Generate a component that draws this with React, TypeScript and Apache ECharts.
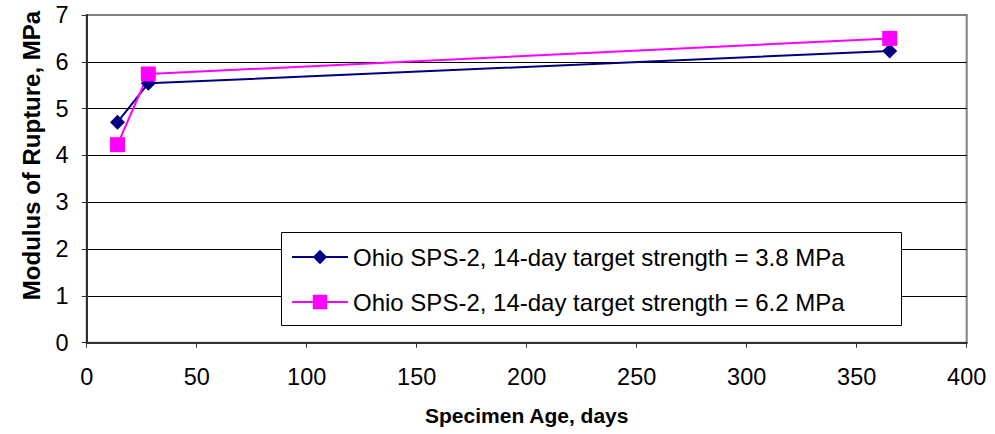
import React, { useEffect, useRef } from "react";
import * as echarts from "echarts";

const ageDays = [14, 28, 365];
const mor38 = [4.71, 5.54, 6.23];
const mor62 = [4.23, 5.74, 6.5];
const seriesNames = [
  "Ohio SPS-2, 14-day target strength = 3.8 MPa",
  "Ohio SPS-2, 14-day target strength = 6.2 MPa",
];
const xTitle = "Specimen Age, days";
const yTitle = "Modulus of Rupture, MPa";

const FONT = "'Liberation Sans', Arial, sans-serif";

export default function App() {
  const ref = useRef<HTMLDivElement>(null);
  useEffect(() => {
    if (!ref.current) return;
    const chart = echarts.init(ref.current, undefined, { renderer: "svg" });
    const pair = (ys: number[]) => ageDays.map((x, i) => [x, ys[i]]);
    chart.setOption({
      animation: false,
      backgroundColor: "#ffffff",
      textStyle: { fontFamily: FONT },
      grid: {
        left: 86.7,
        right: 28.3,
        top: 15,
        bottom: 91.3,
        show: true,
        borderColor: "#808080",
        borderWidth: 2,
        backgroundColor: "transparent",
      },
      xAxis: {
        type: "value",
        min: 0,
        max: 400,
        interval: 50,
        axisLine: { show: true, lineStyle: { color: "#303030", width: 2 } },
        axisTick: { show: true, inside: false, length: 5, lineStyle: { color: "#303030", width: 1 } },
        axisLabel: { color: "#000", fontSize: 23.5, fontFamily: FONT, margin: 22 },
        splitLine: { show: false },
      },
      yAxis: {
        type: "value",
        min: 0,
        max: 7,
        interval: 1,
        axisLine: { show: true, lineStyle: { color: "#303030", width: 2 } },
        axisTick: { show: true, inside: false, length: 5, lineStyle: { color: "#303030", width: 1 } },
        axisLabel: { color: "#000", fontSize: 23.5, fontFamily: FONT, margin: 18 },
        splitLine: {
          show: true,
          lineStyle: {
            color: ["#000", "#000", "#000", "#000", "#000", "#000", "#000", "#808080"],
            width: 1,
          },
        },
      },
      legend: {
        orient: "vertical",
        left: 291,
        top: 245,
        padding: 0,
        itemWidth: 56,
        itemHeight: 18,
        itemGap: 21,
        z: 5,
        textStyle: { fontSize: 24, fontFamily: FONT, color: "#000", lineHeight: 24 },
        data: seriesNames,
      },
      graphic: [
        {
          type: "rect",
          z: 3,
          shape: { x: 281.5, y: 232.5, width: 620, height: 93 },
          style: { fill: "#fff", stroke: "#000", lineWidth: 1 },
        },
        {
          type: "text",
          z: 3,
          x: 31,
          y: 155.5,
          rotation: Math.PI / 2,
          style: {
            text: yTitle,
            fontSize: 24,
            fontWeight: "bold",
            fontFamily: FONT,
            fill: "#000",
            align: "center",
            verticalAlign: "middle",
          },
        },
        {
          type: "text",
          z: 3,
          x: 425,
          y: 415,
          style: {
            text: xTitle,
            fontSize: 21,
            fontWeight: "bold",
            fontFamily: FONT,
            fill: "#000",
            align: "left",
            verticalAlign: "middle",
          },
        },
      ],
      series: [
        {
          name: seriesNames[0],
          type: "line",
          data: pair(mor38),
          symbol: "diamond",
          symbolSize: 15,
          lineStyle: { color: "#000080", width: 2 },
          itemStyle: { color: "#000080" },
          emphasis: { disabled: true },
        },
        {
          name: seriesNames[1],
          type: "line",
          data: pair(mor62),
          symbol: "rect",
          symbolSize: 15,
          lineStyle: { color: "#FF00FF", width: 2 },
          itemStyle: { color: "#FF00FF" },
          emphasis: { disabled: true },
        },
      ],
    });
    return () => chart.dispose();
  }, []);
  return <div ref={ref} style={{ width: 995, height: 434, position: "absolute", left: 0, top: 0 }} />;
}
